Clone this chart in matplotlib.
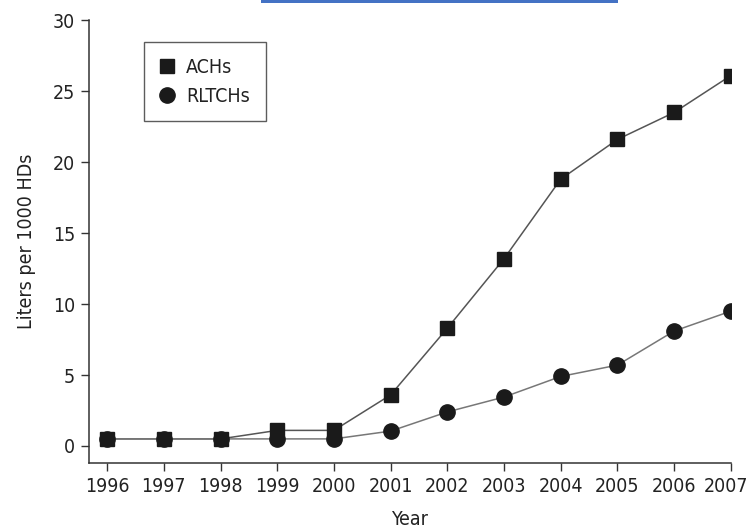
import matplotlib
matplotlib.use("Agg")
from matplotlib import pyplot as plt
from matplotlib.patches import Rectangle
from matplotlib.transforms import ScaledTranslation

years = [1996, 1997, 1998, 1999, 2000, 2001, 2002, 2003, 2004, 2005, 2006, 2007]
achs = [0.5, 0.5, 0.5, 1.1, 1.1, 3.6, 8.3, 13.2, 18.8, 21.6, 23.5, 26.1]
rltchs = [0.5, 0.5, 0.5, 0.5, 0.5, 1.05, 2.4, 3.45, 4.9, 5.7, 8.1, 9.5]
y_ticks = [0, 5, 10, 15, 20, 25, 30]

plt.rcParams['font.family'] = ['DejaVu Sans']
plt.rcParams['font.stretch'] = 'condensed'
txt = '#222222'
fs = 14

fig = plt.figure(figsize=(7.49, 5.31), dpi=100)
ax = fig.add_axes([0.1188, 0.128, 0.857, 0.834])

ax.plot(years, achs, color='#555555', linewidth=1.1, marker='s',
        markersize=9.4, markerfacecolor='#1a1a1a', markeredgecolor='#1a1a1a',
        label='ACHs', zorder=2)
ax.plot(years, rltchs, color='#777777', linewidth=1.1, marker='o',
        markersize=11, markerfacecolor='#1a1a1a', markeredgecolor='#1a1a1a',
        label='RLTCHs', zorder=3)

ax.set_xlim(1995.68, 2007)
ax.set_ylim(-1.2, 30)
ax.set_xticks(years)
ax.set_yticks(y_ticks)
ax.tick_params(axis='both', labelsize=fs, length=6, width=1,
               color='#333333', labelcolor=txt, pad=4)
for s in ['top', 'right']:
    ax.spines[s].set_visible(False)
for s in ['left', 'bottom']:
    ax.spines[s].set_color('#333333')
    ax.spines[s].set_linewidth(1.1)

# last year label sits right at the edge, nudge it in a bit
last = ax.get_xticklabels()[-1]
last.set_transform(last.get_transform() + ScaledTranslation(-5 / 100, 0, fig.dpi_scale_trans))

ax.set_xlabel('Year', fontsize=fs, color=txt, labelpad=10)
ax.set_ylabel('Liters per 1000 HDs', fontsize=fs, color=txt, labelpad=12)

leg = ax.legend(loc='upper left', bbox_to_anchor=(0.085, 0.95), fontsize=fs,
                frameon=True, fancybox=False, edgecolor='#333333',
                handlelength=0.8, handletextpad=0.6, borderpad=0.8,
                labelspacing=0.5, borderaxespad=0)
leg.get_frame().set_linewidth(1.0)
for h in leg.legend_handles:
    h.set_linestyle('none')
for t in leg.get_texts():
    t.set_color(txt)

fig.add_artist(Rectangle((261 / 749, 1 - 3 / 531), 357 / 749, 3 / 531,
                         transform=fig.transFigure, color='#4472C4', lw=0))

fig.savefig('out.png', dpi=100)
